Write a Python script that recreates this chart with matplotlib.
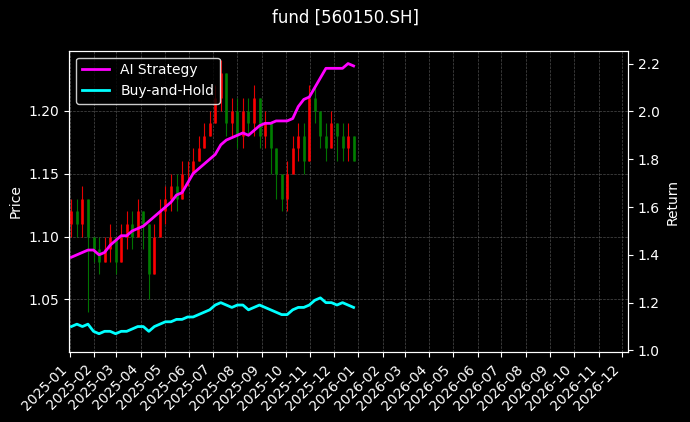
import matplotlib
matplotlib.use("Agg")
import matplotlib.pyplot as plt
import matplotlib.dates as mdates
import pandas as pd
import numpy as np

dates = pd.date_range("2025-01-03", periods=52, freq="7D")
close = [1.12,1.11,1.13,1.10,1.09,1.08,1.09,1.10,1.08,1.10,1.11,1.10,1.12,1.11,1.07,1.10,
         1.12,1.13,1.14,1.13,1.15,1.15,1.16,1.17,1.18,1.19,1.21,1.23,1.19,1.20,1.18,1.20,
         1.19,1.21,1.18,1.19,1.17,1.15,1.13,1.15,1.17,1.18,1.16,1.21,1.20,1.18,1.17,1.19,
         1.18,1.17,1.18,1.16]
open_ = [1.11] + close[:-1]
high = [1.13,1.13,1.14,1.13,1.10,1.10,1.10,1.11,1.10,1.11,1.12,1.12,1.13,1.12,1.11,1.11,
        1.13,1.14,1.15,1.15,1.16,1.16,1.17,1.18,1.19,1.20,1.22,1.24,1.23,1.21,1.21,1.21,
        1.21,1.22,1.21,1.20,1.19,1.17,1.15,1.16,1.18,1.19,1.19,1.22,1.22,1.20,1.19,1.20,
        1.19,1.19,1.19,1.18]
low = [1.10,1.10,1.10,1.04,1.08,1.07,1.08,1.08,1.07,1.08,1.09,1.09,1.10,1.09,1.05,1.07,
       1.10,1.11,1.12,1.12,1.13,1.14,1.15,1.16,1.17,1.18,1.19,1.20,1.18,1.18,1.17,1.17,
       1.18,1.18,1.17,1.17,1.15,1.13,1.12,1.12,1.15,1.16,1.15,1.16,1.19,1.17,1.16,1.17,
       1.16,1.16,1.16,1.16]
ai = [1.39,1.40,1.41,1.42,1.42,1.40,1.41,1.44,1.46,1.48,1.48,1.50,1.51,1.52,1.54,1.56,
      1.58,1.60,1.62,1.65,1.66,1.70,1.74,1.76,1.78,1.80,1.82,1.86,1.88,1.89,1.90,1.91,
      1.90,1.92,1.94,1.95,1.95,1.96,1.96,1.96,1.97,2.02,2.05,2.06,2.10,2.14,2.18,2.18,
      2.18,2.18,2.20,2.19]
bh = [1.10,1.11,1.10,1.11,1.08,1.07,1.08,1.08,1.07,1.08,1.08,1.09,1.10,1.10,1.08,1.10,
      1.11,1.12,1.12,1.13,1.13,1.14,1.14,1.15,1.16,1.17,1.19,1.20,1.19,1.18,1.19,1.19,
      1.17,1.18,1.19,1.18,1.17,1.16,1.15,1.15,1.17,1.18,1.18,1.19,1.21,1.22,1.20,1.20,
      1.19,1.20,1.19,1.18]

plt.style.use("dark_background")
fig, ax = plt.subplots(figsize=(6.9, 4.22), dpi=100)
fig.patch.set_facecolor("black")
ax.set_facecolor("black")
for d, o, h, l, c in zip(dates, open_, high, low, close):
    col = "red" if c >= o else "green"
    ax.vlines(d, l, h, color=col, linewidth=0.8, alpha=0.9)
    ax.vlines(d, min(o, c), max(o, c), color=col, linewidth=2, alpha=0.9)
ax.set_ylim(1.008, 1.2476)
ax.set_ylabel("Price")
ax.grid(True, color="gray", linestyle="--", linewidth=0.5, alpha=0.6)
ax2 = ax.twinx()
ax2.plot(dates, ai, color="magenta", linewidth=2, label="AI Strategy")
ax2.plot(dates, bh, color="cyan", linewidth=2, label="Buy-and-Hold")
ax2.set_ylim(0.992, 2.254)
ax2.set_ylabel("Return")
ax.set_xlim(pd.Timestamp("2024-12-31"), pd.Timestamp("2026-12-08"))
ax.xaxis.set_major_locator(mdates.MonthLocator())
ax.xaxis.set_major_formatter(mdates.DateFormatter("%Y-%m"))
plt.setp(ax.get_xticklabels(), rotation=45, ha="right")
ax2.legend(loc="upper left", facecolor="black", edgecolor="white")
fig.suptitle("fund [560150.SH]")
fig.subplots_adjust(left=0.1, right=0.91, top=0.88, bottom=0.165)
fig.savefig("out.png", dpi=100)
